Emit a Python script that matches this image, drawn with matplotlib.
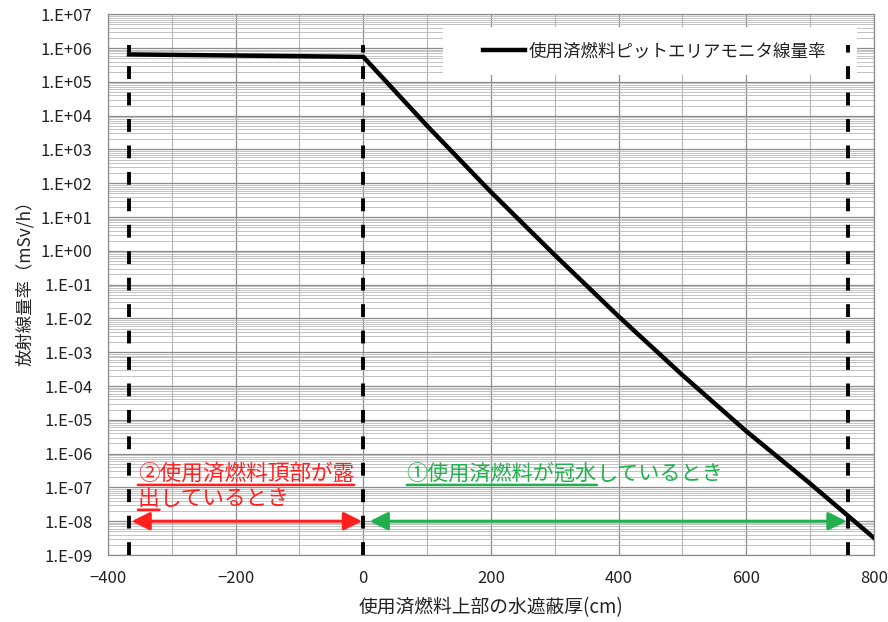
import numpy as np
import matplotlib
matplotlib.use("Agg")
import matplotlib.pyplot as plt
from matplotlib.patches import Rectangle, FancyArrowPatch
from matplotlib.ticker import LogLocator, FuncFormatter, NullFormatter

plt.rcParams['font.family'] = ['Noto Sans CJK JP', 'DejaVu Sans']

# ===== データ =====
thickness = [-367, 0, 100, 200, 300, 400, 500, 600, 700, 800]   # cm
dose_rate = [6.5e5, 5.5e5, 5.0e3, 5.5e1, 7.5e-1, 1.15e-2, 2.1e-4, 4.6e-6, 1.3e-7, 3.2e-9]  # mSv/h

boundary_x = [-367, 0, 760]        # 区間の境界（破線）
boundary_top = 1.2e6
exposed_span = (-363, -2)          # ②露出
flooded_span = (10, 757)           # ①冠水
arrow_level = 1e-8

series_label = '使用済燃料ピットエリアモニタ線量率'
xlabel = '使用済燃料上部の水遮蔽厚(cm)'
ylabel = '放射線量率（mSv/h）'
exposed_text = ['②使用済燃料頂部が露', '出', 'しているとき']
flooded_text = ['①使用済燃料が冠水', 'しているとき']

RED = '#ff1f1f'
GREEN = '#22b04e'
GRID_MAJ = '#8c8c8c'

# ===== 図 =====
fig = plt.figure(figsize=(8.88, 6.22), dpi=100)
ax = fig.add_axes([0.1216, 0.1077, 0.8626, 0.8693])

ax.set_yscale('log')
ax.set_xlim(-400, 800)
ax.set_ylim(1e-9, 1e7)

ax.set_xticks(range(-400, 801, 200))
ax.set_xticks(range(-300, 800, 200), minor=True)
ax.yaxis.set_major_locator(LogLocator(base=10, numticks=30))
ax.yaxis.set_minor_locator(LogLocator(base=10, subs=np.arange(2, 10), numticks=300))
ax.yaxis.set_minor_formatter(NullFormatter())
ax.yaxis.set_major_formatter(FuncFormatter(lambda v, p: f'1.E{int(round(np.log10(v))):+03d}'))

ax.set_axisbelow(True)
ax.grid(which='major', axis='both', color=GRID_MAJ, lw=0.9)
ax.grid(which='minor', axis='y', color='#b8b8b8', lw=0.6)
ax.grid(which='minor', axis='x', color='#b4b4b4', lw=0.8)
ax.tick_params(which='both', length=0, labelsize=12, colors='#222222', pad=11)
for s in ax.spines.values():
    s.set_color(GRID_MAJ)
    s.set_linewidth(0.9)

# 凡例の白地
ax.add_patch(Rectangle((0.437, 0.887), 0.541, 0.089, transform=ax.transAxes,
                       facecolor='white', edgecolor='none', zorder=1.5))

ax.plot(thickness, dose_rate, color='black', lw=3.2, label=series_label, zorder=2)

ax.vlines(boundary_x, arrow_level / 10, boundary_top, colors='black', lw=2.8,
          linestyles=(0, (3.3, 3.5)), zorder=3)

ax.legend(loc='center left', bbox_to_anchor=(0.4896, 0.9316), frameon=False,
          fontsize=12.6, handlelength=2.4, handletextpad=0.2, borderpad=0,
          borderaxespad=0, labelcolor='#222222')

# ===== 矢印 =====
for (x0, x1), c in [(exposed_span, RED), (flooded_span, GREEN)]:
    ax.add_patch(FancyArrowPatch((x0, arrow_level), (x1, arrow_level),
                                 arrowstyle='<|-|>,head_length=11,head_width=5.5',
                                 mutation_scale=1, color=c, lw=2.2,
                                 shrinkA=0, shrinkB=0, zorder=4))


def underline(t, color):
    ax.annotate('', xy=(0, 0), xycoords=t, xytext=(1, 0), textcoords=t,
                arrowprops=dict(arrowstyle='-', color=color, lw=1.8,
                                shrinkA=0, shrinkB=0))


t1 = ax.text(0.039, 0.150, exposed_text[0], transform=ax.transAxes, color=RED,
             fontsize=15.6, va='center', ha='left', zorder=5)
underline(t1, RED)
t2 = ax.text(0.039, 0.104, exposed_text[1], transform=ax.transAxes, color=RED,
             fontsize=15.6, va='center', ha='left', zorder=5)
underline(t2, RED)
ax.annotate(exposed_text[2], xy=(1, 0), xycoords=t2, va='bottom', ha='left',
            color=RED, fontsize=15.6, zorder=5)

g1 = ax.text(0.390, 0.150, flooded_text[0], transform=ax.transAxes, color=GREEN,
             fontsize=15.2, va='center', ha='left', zorder=5)
underline(g1, GREEN)
ax.annotate(flooded_text[1], xy=(1, 0), xycoords=g1, va='bottom', ha='left',
            color=GREEN, fontsize=15.2, zorder=5)

# ===== ラベル =====
ax.set_xlabel(xlabel, fontsize=13.5, color='#222222')
ax.xaxis.set_label_coords(0.5, -0.0776)
ax.set_ylabel(ylabel, fontsize=12.5, color='#222222')
ax.yaxis.set_label_coords(-0.097, 0.51)

fig.savefig('out.png', dpi=100, facecolor='white')
